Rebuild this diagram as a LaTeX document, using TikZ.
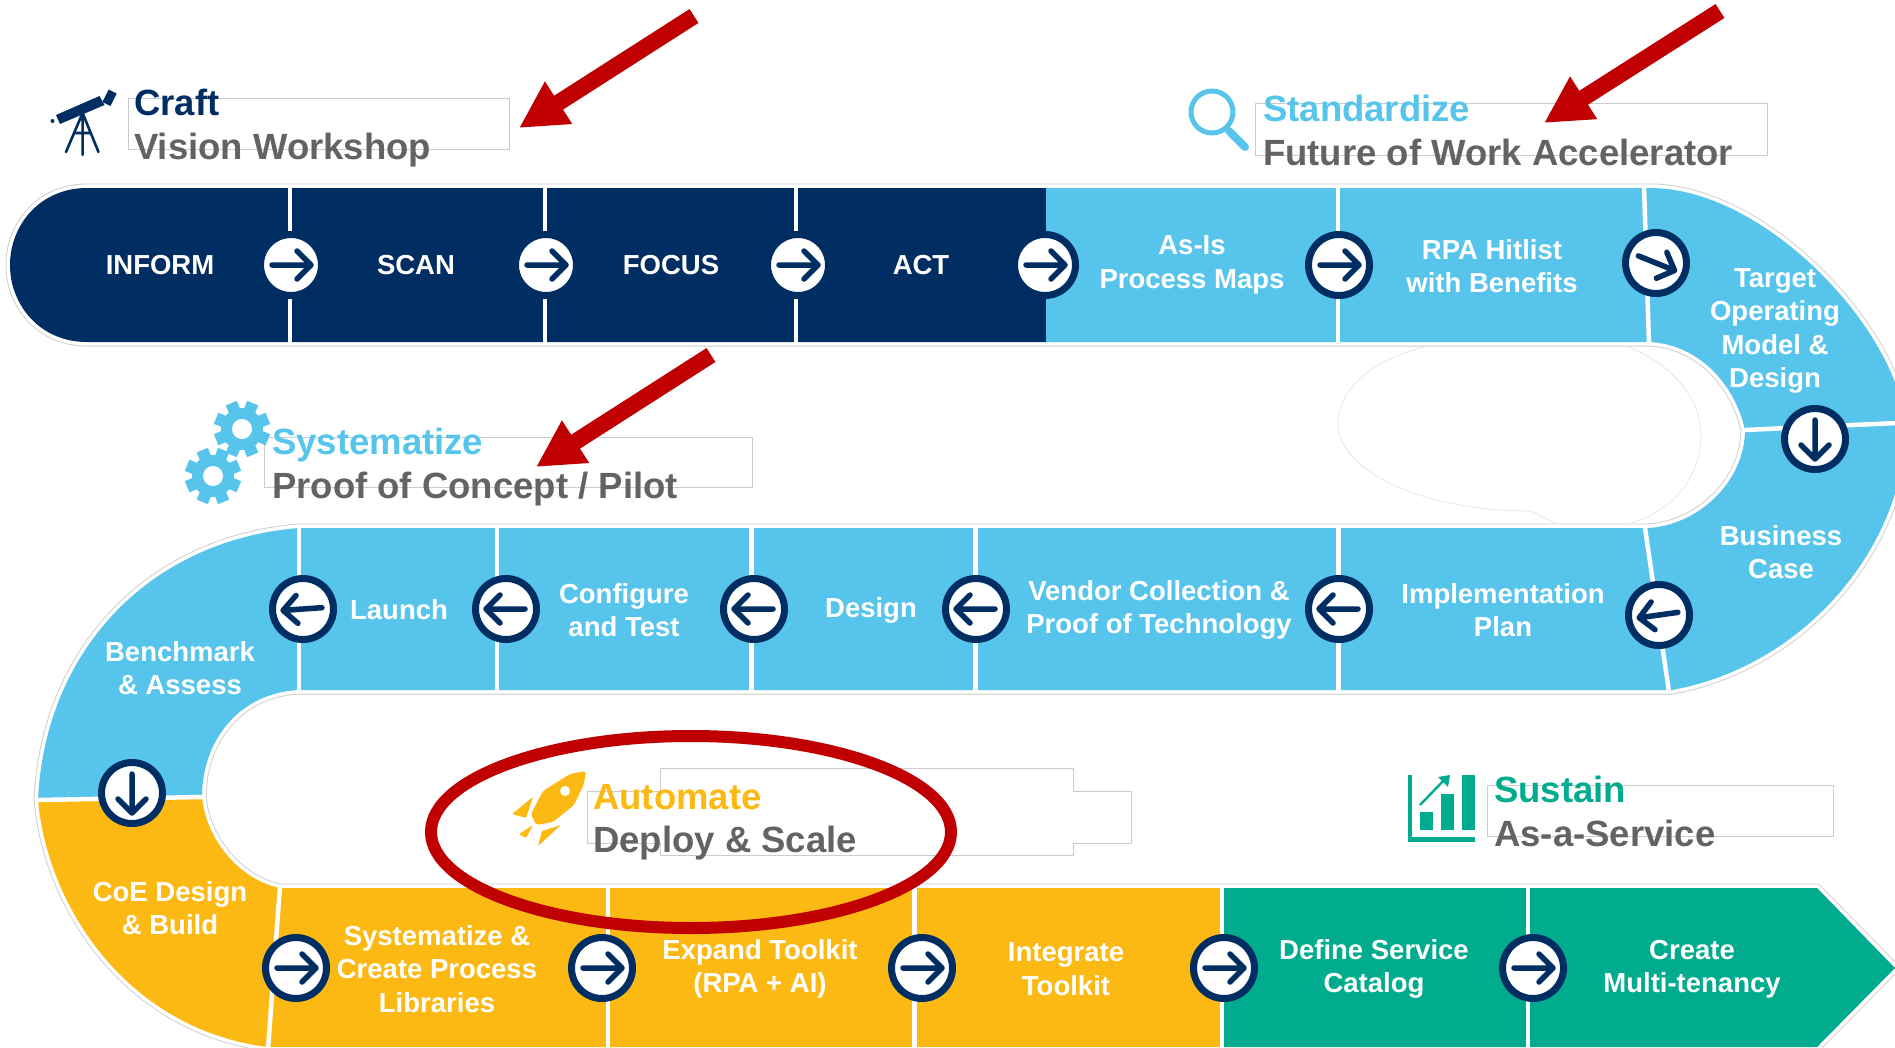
\documentclass[tikz,border=0pt]{standalone}
\usepackage{fontspec}
\setmainfont{Liberation Sans}
\usetikzlibrary{arrows.meta,shapes.geometric}
\definecolor{navy}{HTML}{002D62}
\definecolor{lblue}{HTML}{57C5EB}
\definecolor{amber}{HTML}{FDB913}
\definecolor{teal2}{HTML}{00AB8E}
\definecolor{grayt}{HTML}{636363}
\definecolor{redc}{HTML}{C00000}
\definecolor{frame}{HTML}{CCCCCC}
\tikzset{
  lab/.style={text=white,font=\bfseries\fontsize{27.5}{33.5}\selectfont,align=center,inner sep=0pt,anchor=center},
  headt/.style={font=\bfseries\fontsize{36.5}{40}\selectfont,inner sep=0pt,anchor=base west},
  subt/.style={headt,text=grayt},
  txtframe/.style={draw=frame,line width=0.9pt},
  divider/.style={draw=white,line width=4.5pt},
  dotc/.style={circle,draw=navy,fill=white,line width=7pt,minimum size=61pt,inner sep=0pt},
  dotarrow/.style={draw=navy,line width=5.5pt,line cap=round,line join=round},
  redarrow/.style={draw=redc,line width=16.5pt,-{Triangle[length=47pt,width=47pt]}},
  bubble/.style={draw=black!10,line width=0.8pt},
}
\newcommand{\flowdot}[3]{%
  \node[dotc] (#1) at (#2) {};
  \draw[dotarrow,shift={(#1.center)},rotate=#3] (-19,0) -- (19,0) (6,-14) -- (20,0) -- (6,14);
}
\newcommand{\gearicon}[2]{%
  \fill[lblue] (#1,#2) circle[radius=21pt];
  \foreach \a in {0,45,90,135}
    \fill[lblue,shift={(#1,#2)},rotate=\a+22.5] (-6,-28) rectangle (6,28);
  \fill[white] (#1,#2) circle[radius=10pt];
}
\begin{document}
\begin{tikzpicture}[x=1pt,y=-1pt]
\useasboundingbox (0,0) rectangle (1895,1047);
\clip (0,0) rectangle (1895,1047);
% snake outline
\def\snake{(87,188) -- (1650,188)
  .. controls (1770,188) and (1905,340) .. (1905,430)
  .. controls (1905,540) and (1810,665) .. (1672,690)
  -- (300,690) .. controls (240,692) and (202,740) .. (202,797)
  .. controls (206,840) and (240,880) .. (280,888)
  -- (1817,888) -- (1895,968) -- (1817,1047) -- (268,1047)
  .. controls (130,1030) and (48,910) .. (38,800)
  .. controls (45,650) and (150,540) .. (299,528)
  -- (1648,528) .. controls (1700,525) and (1745,480) .. (1745,430)
  .. controls (1735,385) and (1700,345) .. (1650,342)
  -- (87,342) .. controls (40,342) and (10,305) .. (10,265)
  .. controls (10,225) and (40,188) .. (87,188) -- cycle}
\draw[draw=frame,line width=9pt,line join=round] \snake;
\draw[draw=white,line width=7.2pt,line join=round] \snake;
% hairline bubble in the inner turn
\draw[bubble] (1428,346) .. controls (1370,360) and (1338,390) .. (1338,424)
  .. controls (1338,470) and (1420,511) .. (1531,511) -- (1555,523);
\draw[bubble] (1626,346) .. controls (1675,365) and (1701,400) .. (1701,436)
  .. controls (1701,475) and (1675,510) .. (1631,523);
% coloured segments
\fill[navy] (1046,188) -- (87,188) .. controls (40,188) and (10,225) .. (10,265)
  .. controls (10,305) and (40,342) .. (87,342) -- (1046,342) -- cycle;
\fill[lblue] (1046,188) -- (1650,188)
  .. controls (1770,188) and (1905,340) .. (1905,430)
  .. controls (1905,540) and (1810,665) .. (1672,690)
  -- (300,690) .. controls (240,692) and (202,740) .. (202,797)
  -- (38,800) .. controls (45,650) and (150,540) .. (299,528)
  -- (1648,528) .. controls (1700,525) and (1745,480) .. (1745,430)
  .. controls (1735,385) and (1700,345) .. (1650,342)
  -- (1046,342) -- cycle;
\fill[amber] (38,800) -- (202,797) .. controls (206,840) and (240,880) .. (280,888)
  -- (1222,888) -- (1222,1047) -- (268,1047) .. controls (130,1030) and (48,910) .. (38,800) -- cycle;
\fill[teal2] (1222,888) -- (1817,888) -- (1895,968) -- (1817,1047) -- (1222,1047) -- cycle;
% dividers
\foreach \x in {290,545,796,1338} \draw[divider] (\x,186) -- (\x,344);
\draw[divider] (1644,186) -- (1649,344);
\draw[divider] (1745,430) -- (1897,423);
\draw[divider] (1645,528) -- (1669,692);
\foreach \x in {299,497,751.5,975.5,1338.5} \draw[divider] (\x,526) -- (\x,692);
\draw[divider] (38,800) -- (202,797);
\draw[divider] (280,886) -- (268,1049);
\foreach \x in {608,914.5,1222,1528} \draw[divider] (\x,886) -- (\x,1049);
% text frames
\draw[txtframe] (128,98) rectangle (509,149);
\draw[txtframe] (1255,103) rectangle (1767,155);
\draw[txtframe] (264,437) rectangle (752,487);
\draw[txtframe] (587,791) -- (660,791) -- (660,768) -- (1073,768) -- (1073,791) -- (1131,791) -- (1131,843) -- (1073,843) -- (1073,855) -- (660,855) -- (660,843) -- (587,843) -- cycle;
\draw[txtframe] (1487,785) rectangle (1833,836);
% telescope
\fill[navy] (56,115) -- (99.5,96) -- (104.5,105) -- (60,124) -- cycle;
\fill[navy,rotate around={-27:(110,98)}] (105,91) rectangle (114,105);
\fill[navy] (52.5,121) circle[radius=2pt];
\draw[navy,line width=2.6pt,line cap=round] (82.6,113) -- (66,152) (82.6,113) -- (82.6,155) (82.6,113) -- (98.5,152) (75,133) -- (90,133);
% magnifier
\draw[lblue,line width=5pt] (1212,112) circle[radius=21pt];
\draw[lblue,line width=8pt,line cap=round] (1229,131) -- (1245,147);
% gears
\gearicon{242}{429}
\gearicon{213}{476}
% rocket
\fill[amber,rounded corners=3pt] (586,771) -- (570,774) -- (543,791) -- (531,814) -- (536,825) -- (553,822) -- (574,805) -- (584,784) -- cycle;
\fill[white] (565,791) circle[radius=5pt];
\fill[amber,rounded corners=1pt] (512,814) -- (533,797) -- (526,818) -- cycle;
\fill[amber,rounded corners=1pt] (561,825) -- (538,846) -- (542,831) -- cycle;
\fill[amber,rounded corners=1pt] (533,825) -- (519,834) -- (526,838) -- cycle;
% chart icon
\fill[teal2] (1408,775) rectangle (1412,842);
\fill[teal2] (1408,837) rectangle (1475,842);
\fill[teal2] (1420,812) rectangle (1433,830);
\fill[teal2] (1441,794) rectangle (1454,830);
\fill[teal2] (1462,775) rectangle (1475,830);
\draw[teal2,line width=2.4pt] (1420,805) -- (1446,778);
\fill[teal2] (1450,775) -- (1438,777) -- (1448,787) -- cycle;
% headings
\node[headt,text=navy] (h1) at (134,115) {Craft};
\node[subt] (s1) at (134,159) {Vision Workshop};
\node[headt,text=lblue] (h2) at (1263,121) {Standardize};
\node[subt] (s2) at (1263,165) {Future of Work Accelerator};
\node[headt,text=lblue] (h3) at (272,454) {Systematize};
\node[subt] (s3) at (272,498) {Proof of Concept / Pilot};
\node[headt,text=amber] (h4) at (593,809) {Automate};
\node[subt] (s4) at (593,852) {Deploy \& Scale};
\node[headt,text=teal2] (h5) at (1494,802) {Sustain};
\node[subt] (s5) at (1494,846) {As-a-Service};
% step labels
\node[lab] (l1) at (160,265) {INFORM};
\node[lab] (l2) at (416,265) {SCAN};
\node[lab] (l3) at (671,265) {FOCUS};
\node[lab] (l4) at (921,265) {ACT};
\node[lab] (l5) at (1192,265) {As-Is\\Process Maps};
\node[lab] (l6) at (1492,266) {RPA Hitlist\\with Benefits};
\node[lab] (l7) at (1775,331) {Target\\Operating\\Model \&\\Design};
\node[lab] (l8) at (1781,552) {Business\\Case};
\node[lab] (l9) at (1503,610) {Implementation\\Plan};
\node[lab] (l10) at (1159,610) {Vendor Collection \&\\Proof of Technology};
\node[lab] (l11) at (871,610) {Design};
\node[lab] (l12) at (624,610) {Configure\\and Test};
\node[lab] (l13) at (399,610) {Launch};
\node[lab] (l14) at (180,668) {Benchmark\\\& Assess};
\node[lab] (l15) at (170,908) {CoE Design\\\& Build};
\node[lab] (l16) at (437,969) {Systematize \&\\Create Process\\Libraries};
\node[lab] (l17) at (760,969) {Expand Toolkit\\(RPA + AI)};
\node[lab] (l18) at (1066,969) {Integrate\\Toolkit};
\node[lab] (l19) at (1374,969) {Define Service\\Catalog};
\node[lab] (l20) at (1692,969) {Create\\Multi-tenancy};
% arrow dots
\flowdot{d1}{291,265}{0}
\flowdot{d2}{546,265}{0}
\flowdot{d3}{798,265}{0}
\flowdot{d4}{1045,265}{0}
\flowdot{d5}{1339,265}{0}
\flowdot{d6}{1656,263}{-22}
\flowdot{d7}{1815,439}{-90}
\flowdot{d8}{1659,615}{188}
\flowdot{d9}{1339,609}{180}
\flowdot{d10}{976,609}{180}
\flowdot{d11}{754,609}{180}
\flowdot{d12}{506,609}{180}
\flowdot{d13}{303,609}{184}
\flowdot{d14}{132,793}{-90}
\flowdot{d15}{296,968}{0}
\flowdot{d16}{602,968}{0}
\flowdot{d17}{922,968}{0}
\flowdot{d18}{1224,968}{0}
\flowdot{d19}{1533,968}{0}
% red annotations
\coordinate (r1a) at (694,16);
\coordinate (r1b) at (519,128);
\coordinate (r2a) at (1720,11);
\coordinate (r2b) at (1544,123);
\coordinate (r3a) at (711,355);
\coordinate (r3b) at (536,467);
\draw[redarrow] (r1a) -- (r1b);
\draw[redarrow] (r2a) -- (r2b);
\draw[redarrow] (r3a) -- (r3b);
\node[draw=redc,line width=12pt,ellipse,minimum width=520pt,minimum height=192pt,inner sep=0pt] (ring) at (691,832) {};
\end{tikzpicture}
\end{document}
